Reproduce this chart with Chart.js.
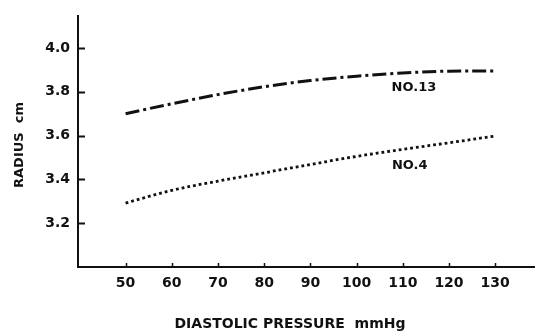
<!DOCTYPE html>
<html>
<head>
<meta charset="utf-8">
<script src="https://cdn.jsdelivr.net/npm/chart.js@4/dist/chart.umd.min.js"></script>
<style>
  html, body { margin: 0; padding: 0; background: #fff; }
  #wrap { width: 535px; height: 334px; }
</style>
</head>
<body>
<div id="wrap"><canvas id="c" width="535" height="334"></canvas></div>
<script>
// Diastolic pressure (mmHg) at which the radius was measured
const pressure = [50, 60, 70, 80, 90, 100, 110, 120, 130];
// Radius (cm) for the two cases
const radiusNo13 = [3.70, 3.745, 3.787, 3.823, 3.851, 3.871, 3.886, 3.894, 3.895];
const radiusNo4  = [3.292, 3.350, 3.392, 3.430, 3.468, 3.505, 3.537, 3.567, 3.598];
// Axis tick values
const xTicks = [50, 60, 70, 80, 90, 100, 110, 120, 130];
const yTicks = [3.2, 3.4, 3.6, 3.8, 4.0];
// Curve labels
const seriesNames = ['NO.13', 'NO.4'];

const INK = '#111';
const FONT = '"DejaVu Sans", sans-serif';

const toPoints = (xs, ys) => xs.map((x, i) => ({ x, y: ys[i] }));

// Inner tick marks, axis titles and curve labels
const decorations = {
  id: 'decorations',
  afterDraw(chart) {
    const { ctx, chartArea: a } = chart;
    const xs = chart.scales.x, ys = chart.scales.y;
    ctx.save();
    ctx.strokeStyle = INK;
    ctx.lineWidth = 2;
    ctx.beginPath();
    yTicks.forEach(v => {
      const py = Math.round(ys.getPixelForValue(v)) + 0.5;
      ctx.moveTo(a.left, py);
      ctx.lineTo(a.left + 7, py);
    });
    ctx.stroke();
    ctx.lineWidth = 1.5;
    ctx.beginPath();
    xTicks.forEach(v => {
      const px = Math.round(xs.getPixelForValue(v)) + 0.5;
      ctx.moveTo(px, a.bottom);
      ctx.lineTo(px, a.bottom - 4);
    });
    ctx.stroke();

    ctx.fillStyle = INK;
    ctx.textAlign = 'center';
    ctx.textBaseline = 'middle';
    ctx.font = 'bold 14px ' + FONT;
    ctx.fillText('DIASTOLIC PRESSURE  mmHg', a.left + 212, 324);

    ctx.save();
    ctx.translate(20, 145);
    ctx.rotate(-Math.PI / 2);
    ctx.font = 'bold 13px ' + FONT;
    ctx.fillText('RADIUS  cm', 0, 0);
    ctx.restore();

    ctx.font = 'bold 13px ' + FONT;
    ctx.fillText(seriesNames[0], xs.getPixelForValue(112.4), ys.getPixelForValue(3.82));
    ctx.fillText(seriesNames[1], xs.getPixelForValue(111.5), ys.getPixelForValue(3.465));
    ctx.restore();
  }
};

new Chart(document.getElementById('c'), {
  type: 'line',
  data: {
    datasets: [
      {
        label: seriesNames[0],
        data: toPoints(pressure, radiusNo13),
        borderColor: INK,
        borderWidth: 3,
        borderDash: [14, 4, 3, 4],
        borderCapStyle: 'butt',
        pointRadius: 0,
        tension: 0.4,
        cubicInterpolationMode: 'monotone',
        fill: false
      },
      {
        label: seriesNames[1],
        data: toPoints(pressure, radiusNo4),
        borderColor: INK,
        borderWidth: 2.8,
        borderDash: [2.8, 3],
        borderCapStyle: 'butt',
        pointRadius: 0,
        tension: 0.4,
        cubicInterpolationMode: 'monotone',
        fill: false
      }
    ]
  },
  options: {
    responsive: false,
    animation: false,
    layout: { padding: { top: 10, left: 0, right: 1, bottom: 0 } },
    plugins: { legend: { display: false }, tooltip: { enabled: false }, title: { display: false } },
    scales: {
      x: {
        type: 'linear',
        min: 39.7,
        max: 138.4,
        grid: { display: false, drawTicks: false },
        border: { display: true, color: INK, width: 2 },
        afterBuildTicks: s => { s.ticks = xTicks.map(v => ({ value: v })); },
        afterFit: s => { s.height = 67; },
        ticks: {
          color: INK,
          padding: 8,
          maxRotation: 0,
          autoSkip: false,
          font: { family: FONT, size: 14, weight: 'bold' },
          callback: v => String(v)
        }
      },
      y: {
        type: 'linear',
        min: 3.0,
        max: 4.144,
        grid: { display: false, drawTicks: false },
        border: { display: true, color: INK, width: 2 },
        afterBuildTicks: s => { s.ticks = yTicks.map(v => ({ value: v })); },
        afterFit: s => { s.width = 78; },
        ticks: {
          color: INK,
          padding: 8,
          autoSkip: false,
          font: { family: FONT, size: 14, weight: 'bold' },
          callback: v => Number(v).toFixed(1)
        }
      }
    }
  },
  plugins: [decorations]
});
</script>
</body>
</html>
